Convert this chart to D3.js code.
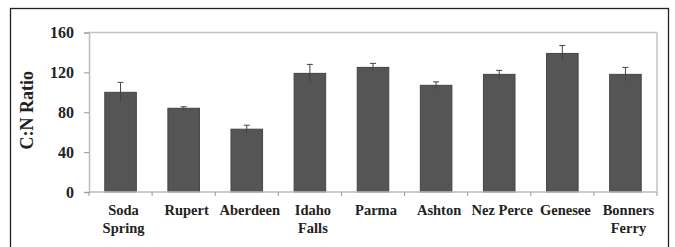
<!DOCTYPE html>
<html lang="en">
<head>
    <meta charset="UTF-8">
    <title>C:N Ratio</title>
    <style>
        body {
            margin: 0;
            background: #fff;
        }
    </style>
</head>

<body>
    <div id="chart-wrapper"></div>

    <script src="https://d3js.org/d3.v7.min.js"></script>
    <script>
        const sites = ['Soda Spring', 'Rupert', 'Aberdeen', 'Idaho Falls', 'Parma', 'Ashton', 'Nez Perce', 'Genesee', 'Bonners Ferry']
        const ratios = [100, 84, 63, 119, 125, 107, 118, 139, 118]
        const errors = [10, 1.5, 4, 9, 4, 3.5, 4, 8, 7]
        const yTicks = [0, 40, 80, 120, 160]

        const FONT = 'Liberation Serif, DejaVu Serif, serif'
        const width = 675
        const height = 247
        const margin = {
            top: 32.5,
            right: 18,
            bottom: 55,
            left: 89
        }

        const svg = d3.select('#chart-wrapper')
            .append('svg')
            .attr('width', width)
            .attr('height', height)
            .style('font-family', FONT)
            .attr('font-weight', 'bold')

        // outer frame, runs off the bottom edge
        svg.append('rect')
            .attr('x', 10.5)
            .attr('y', 8.5)
            .attr('width', 658)
            .attr('height', 260)
            .attr('fill', 'none')
            .attr('stroke', '#222')
            .attr('stroke-width', 1.3)

        const xScale = d3.scaleBand()
            .domain(sites)
            .range([margin.left, width - margin.right])
            .paddingInner(0.5)
            .paddingOuter(0.25)

        const yScale = d3.scaleLinear()
            .domain([0, 160])
            .range([height - margin.bottom, margin.top])

        // plot box (top + right)
        svg.append('path')
            .attr('d', `M${margin.left},${yScale(160)}H${width - margin.right}V${yScale(0)}`)
            .attr('fill', 'none')
            .attr('stroke', '#c4c4c4')
            .attr('stroke-width', 1.5)

        drawBars()
        drawAxis()

        function drawAxis() {
            const yAxis = d3.axisLeft(yScale)
                .tickValues(yTicks)
                .tickSize(5)
                .tickPadding(10)

            const gy = svg.append('g')
                .attr('transform', `translate(${margin.left},0)`)
                .call(yAxis)
                .attr('font-family', null)
                .attr('font-size', 16)
            gy.select('.domain').attr('stroke', '#bbb').attr('stroke-width', 1.5)
            gy.selectAll('.tick line').attr('stroke', '#999')
            gy.selectAll('.tick text').attr('fill', '#222')

            // x axis: ticks between categories
            const step = xScale.step()
            const bounds = d3.range(sites.length + 1).map(i => margin.left + i * step)
            const base = yScale(0)

            svg.append('line')
                .attr('x1', margin.left)
                .attr('x2', width - margin.right)
                .attr('y1', base)
                .attr('y2', base)
                .attr('stroke', '#bbb')
                .attr('stroke-width', 1.5)

            svg.append('g')
                .selectAll('line')
                .data(bounds)
                .join('line')
                .attr('x1', d => d)
                .attr('x2', d => d)
                .attr('y1', base)
                .attr('y2', base + 4)
                .attr('stroke', '#999')

            const labels = svg.append('g')
                .attr('fill', '#222')
                .selectAll('text')
                .data(sites)
                .join('text')
                .attr('text-anchor', 'middle')
                .attr('font-size', 14.5)
                .attr('x', d => xScale(d) + xScale.bandwidth() / 2 + 3)
                .attr('y', base + 23)

            labels.each(function (d) {
                const lines = (d === 'Nez Perce') ? [d] : d.split(' ')
                const t = d3.select(this)
                lines.forEach((w, i) => {
                    t.append('tspan')
                        .attr('x', t.attr('x'))
                        .attr('dy', i === 0 ? 0 : 18)
                        .text(w)
                })
            })

            svg.append('text')
                .attr('transform', `translate(33, ${(yScale(0) + yScale(160)) / 2 - 2}) rotate(-90)`)
                .attr('text-anchor', 'middle')
                .attr('font-size', 18)
                .attr('fill', '#222')
                .text('C:N Ratio')
        }

        function drawBars() {
            svg.append('g')
                .selectAll('rect')
                .data(sites)
                .join('rect')
                .attr('x', d => xScale(d))
                .attr('y', (d, i) => yScale(ratios[i]))
                .attr('width', xScale.bandwidth())
                .attr('height', (d, i) => yScale(0) - yScale(ratios[i]))
                .attr('fill', '#555')
                .attr('stroke', '#444')
                .attr('stroke-width', 1)

            const cx = d => xScale(d) + xScale.bandwidth() / 2
            const eg = svg.append('g')
                .attr('stroke', '#444')
                .attr('stroke-width', 1)
            eg.selectAll('line.stem')
                .data(sites)
                .join('line')
                .attr('class', 'stem')
                .attr('x1', cx)
                .attr('x2', cx)
                .attr('y1', (d, i) => yScale(ratios[i] + errors[i]))
                .attr('y2', (d, i) => yScale(ratios[i] - errors[i]))
            eg.selectAll('line.cap')
                .data(sites)
                .join('line')
                .attr('class', 'cap')
                .attr('x1', d => cx(d) - 3)
                .attr('x2', d => cx(d) + 3)
                .attr('y1', (d, i) => yScale(ratios[i] + errors[i]))
                .attr('y2', (d, i) => yScale(ratios[i] + errors[i]))
        }
    </script>
</body>
</html>
